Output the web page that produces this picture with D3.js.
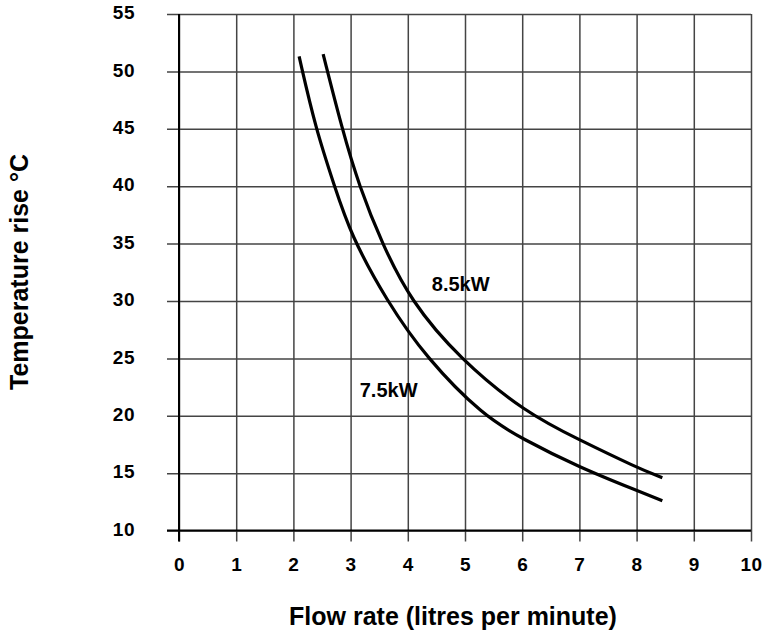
<!DOCTYPE html>
<html>
<head>
<meta charset="utf-8">
<script src="https://cdn.jsdelivr.net/npm/d3@7"></script>
<style>
  body { margin: 0; background: #fff; }
  svg { display: block; font-family: "Liberation Sans", Arial, sans-serif; font-weight: bold; }
</style>
</head>
<body>
<div id="chart"></div>
<script>
// values
var xTicks = [0, 1, 2, 3, 4, 5, 6, 7, 8, 9, 10];
var yTicks = [10, 15, 20, 25, 30, 35, 40, 45, 50, 55];

// 7.5kW curve: [flow, temperature rise]
var flow75 = [2.10, 2.39, 2.72, 3.0, 3.63, 4.33, 5.32, 6.0, 7.0, 8.0, 8.45];
var temp75 = [51.3, 45.0, 40.0, 35.8, 30.0, 25.0, 20.0, 18.0, 15.5, 13.5, 12.6];

// 8.5kW curve
var flow85 = [2.52, 2.85, 3.15, 3.55, 4.05, 4.90, 6.05, 7.0, 8.0, 8.45];
var temp85 = [51.5, 45.0, 40.0, 35.0, 30.0, 25.0, 20.3, 17.9, 15.5, 14.6];

var seriesNames = ["7.5kW", "8.5kW"];
var labelFlow = [3.16, 4.42];
var labelTemp = [21.6, 30.9];

var xTitle = "Flow rate (litres per minute)";
var yTitle = "Temperature rise °C";

var width = 764, height = 632;
var x = d3.scaleLinear().domain([0, 10]).range([179, 751]);
var y = d3.scaleLinear().domain([10, 55]).range([530.6, 14]);

var svg = d3.select("#chart").append("svg")
    .attr("width", width)
    .attr("height", height);

// horizontal grid + y labels (axis drawn from the right edge)
var yAxis = svg.append("g")
    .attr("transform", "translate(" + x(10) + ",0)")
    .call(d3.axisLeft(y).tickValues(yTicks)
        .tickSize(x(10) - x(0) + 12)
        .tickPadding(32));

// vertical grid + x labels (axis drawn from the top edge)
var xAxis = svg.append("g")
    .attr("transform", "translate(0," + y(55) + ")")
    .call(d3.axisBottom(x).tickValues(xTicks)
        .tickSize(y(10) - y(55) + 11)
        .tickPadding(16));

[yAxis, xAxis].forEach(function(g) {
    g.select(".domain").remove();
    g.selectAll(".tick line").attr("stroke", "#444").attr("stroke-width", 1.5);
    g.selectAll(".tick text")
        .attr("fill", "#000")
        .style("font-size", "19px")
        .style("letter-spacing", "0.5px")
        .style("font-family", "'Liberation Sans', Arial, sans-serif")
        .style("font-weight", "bold");
});
yAxis.selectAll(".tick text").attr("dy", "0.25em");

// main axis lines
svg.append("line")
    .attr("x1", x(0)).attr("x2", x(0))
    .attr("y1", y(55)).attr("y2", y(10) + 11)
    .attr("stroke", "#000").attr("stroke-width", 2);
svg.append("line")
    .attr("x1", x(0) - 12).attr("x2", x(10))
    .attr("y1", y(10)).attr("y2", y(10))
    .attr("stroke", "#000").attr("stroke-width", 2);

// curves (smoothed through the read points)
var line = d3.line()
    .x(function(d) { return x(d[0]); })
    .y(function(d) { return y(d[1]); })
    .curve(d3.curveBasis);

var curves = [d3.zip(flow75, temp75), d3.zip(flow85, temp85)];
svg.selectAll("path.curve")
    .data(curves)
    .enter().append("path")
    .attr("class", "curve")
    .attr("d", line)
    .attr("fill", "none")
    .attr("stroke", "#000")
    .attr("stroke-width", 3.2);

// curve labels
svg.selectAll("text.series")
    .data(seriesNames)
    .enter().append("text")
    .attr("class", "series")
    .attr("x", function(d, i) { return x(labelFlow[i]); })
    .attr("y", function(d, i) { return y(labelTemp[i]); })
    .style("font-size", "20px")
    .text(function(d) { return d; });

// axis titles
svg.append("text")
    .attr("x", 453)
    .attr("y", 625)
    .attr("text-anchor", "middle")
    .style("font-size", "25px")
    .text(xTitle);

svg.append("text")
    .attr("transform", "translate(28,272) rotate(-90)")
    .attr("text-anchor", "middle")
    .style("font-size", "25px")
    .text(yTitle);
</script>
</body>
</html>
